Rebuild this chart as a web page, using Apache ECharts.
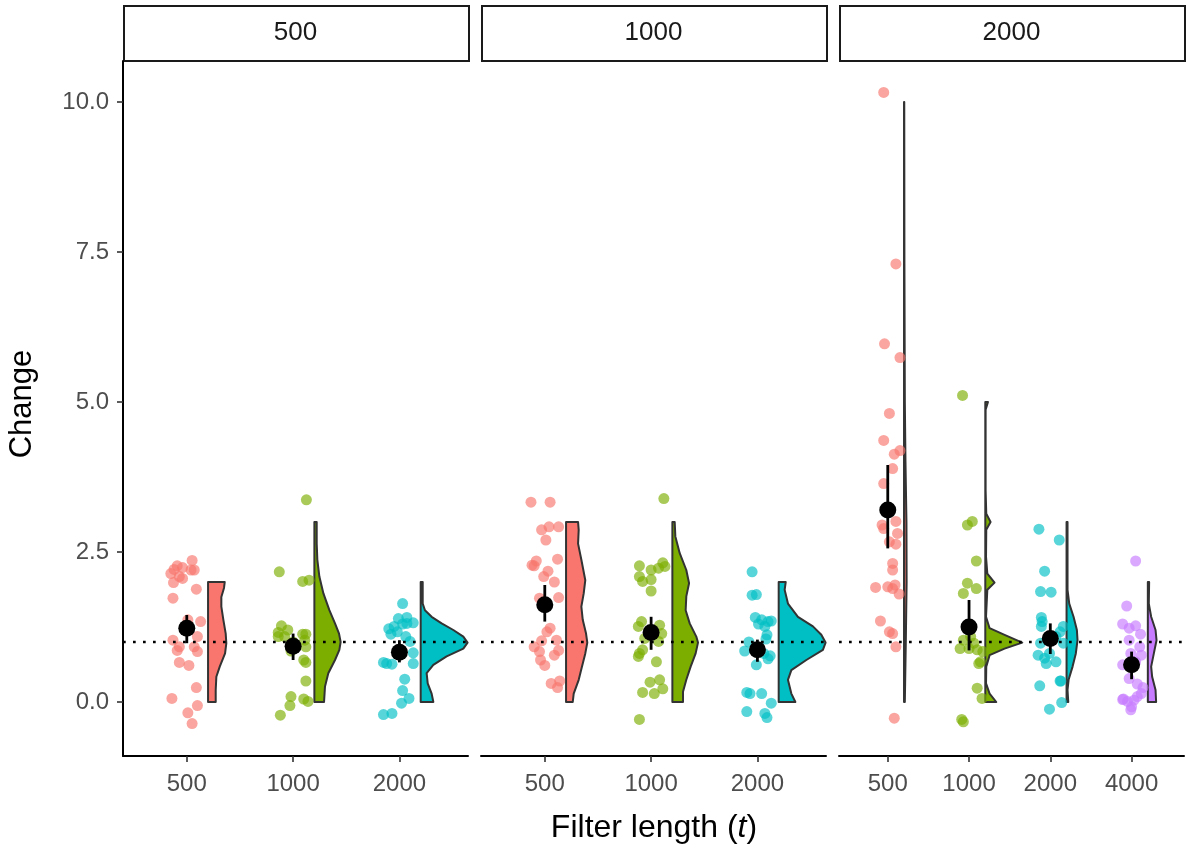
<!DOCTYPE html>
<html>
<head>
<meta charset="utf-8">
<script src="https://cdn.jsdelivr.net/npm/echarts@6/dist/echarts.min.js"></script>
<style>html,body{margin:0;padding:0;background:#fff;}#c{width:1189px;height:852px;}</style>
</head>
<body>
<div id="c"></div>
<script>
// ---------- DATA ----------
const facetLabels = ['500', '1000', '2000'];
const xCats = [['500', '1000', '2000'], ['500', '1000', '2000'], ['500', '1000', '2000', '4000']];
const yTicks = [0, 2.5, 5, 7.5, 10];
const refLine = 1;

// jittered points: [x jitter offset, value]
const f500_t500 = [[0.05,2.36],[-0.09,2.27],[-0.12,2.21],[-0.04,2.24],[-0.15,2.14],[-0.07,2.09],[0.04,2.2],[0.07,2.2],[-0.04,2.06],[-0.125,1.99],[0.09,1.88],[-0.13,1.73],[0.01,1.37],[0.13,1.34],[0.1,1.09],[-0.13,1.03],[-0.07,0.92],[0.07,0.92],[-0.09,0.86],[0.1,0.84],[-0.07,0.66],[0.02,0.61],[0.09,0.24],[-0.14,0.06],[0.1,-0.06],[0.01,-0.18],[0.05,-0.36]];
const f500_t1000 = [[0.125,3.37],[-0.13,2.17],[0.09,2.01],[0.15,2.03],[-0.11,1.27],[-0.14,1.16],[-0.05,1.2],[-0.08,1.09],[0.09,1.13],[0.12,1.13],[-0.14,1.09],[0.11,1.03],[0.12,0.92],[0.0,1.0],[-0.02,0.85],[0.1,0.7],[0.12,0.66],[0.12,0.35],[-0.02,0.09],[-0.03,-0.06],[0.1,0.05],[0.14,0.01],[-0.12,-0.22]];
const f500_t2000 = [[0.03,1.64],[-0.01,1.39],[0.07,1.41],[0.13,1.32],[0.07,1.31],[0.03,1.3],[-0.05,1.26],[-0.1,1.22],[-0.02,1.17],[-0.08,1.13],[0.06,1.09],[0.1,1.01],[0.13,0.82],[0.0,0.8],[-0.15,0.66],[-0.12,0.64],[-0.07,0.63],[0.13,0.64],[0.05,0.38],[0.03,0.19],[0.09,0.06],[0.02,-0.02],[-0.15,-0.21],[-0.07,-0.19]];
const f1000_t500 = [[-0.13,3.33],[0.05,3.33],[-0.03,2.87],[0.04,2.92],[0.13,2.92],[0.01,2.7],[0.12,2.38],[-0.12,2.28],[-0.08,2.35],[-0.1,2.27],[0.03,2.18],[-0.01,2.09],[0.09,2.0],[0.13,1.74],[-0.05,1.73],[0.05,1.23],[0.02,1.17],[0.11,1.03],[-0.03,1.02],[-0.1,0.92],[-0.05,0.84],[0.13,0.86],[0.09,0.78],[-0.04,0.7],[0,0.61],[0.06,0.31],[0.14,0.35],[0.12,0.24]];
const f1000_t1000 = [[0.12,3.39],[-0.11,2.27],[0,2.2],[0.07,2.23],[0.11,2.32],[0.13,2.26],[-0.11,2.09],[-0.08,2.01],[0,2.04],[0,1.85],[-0.09,1.34],[-0.12,1.26],[0.08,1.28],[0.1,1.14],[-0.06,1.06],[0.07,1.01],[-0.08,0.87],[-0.11,0.81],[-0.12,0.76],[0.05,0.67],[-0.01,0.33],[0.08,0.37],[0.11,0.22],[-0.08,0.16],[0.03,0.14],[-0.11,-0.29]];
const f1000_t2000 = [[-0.05,2.17],[-0.05,1.78],[-0.01,1.79],[-0.02,1.41],[0.04,1.37],[0.1,1.34],[0.13,1.35],[0.01,1.3],[0.07,1.26],[0.09,1.12],[-0.08,1.0],[0.08,1.05],[-0.12,0.85],[0.06,0.81],[0.1,0.72],[0.12,0.77],[-0.01,0.62],[-0.1,0.16],[-0.07,0.14],[0.04,0.14],[0.13,-0.02],[-0.1,-0.16],[0.07,-0.19],[0.09,-0.26]];
const f2000_t500 = [[-0.05,10.16],[0.1,7.3],[-0.04,5.97],[0.15,5.74],[0.02,4.81],[-0.05,4.36],[0.15,4.19],[0.08,4.13],[0.06,3.89],[-0.05,3.64],[-0.07,2.95],[-0.05,2.89],[0.1,3.01],[0.12,2.81],[0.02,2.67],[0.1,2.63],[0.06,2.31],[0.06,2.2],[-0.15,1.91],[0,1.92],[0.09,1.95],[0.06,1.89],[0.14,1.8],[-0.09,1.35],[0.02,1.17],[0.06,1.14],[0.1,0.92],[0.08,-0.27]];
const f2000_t1000 = [[-0.08,5.11],[-0.02,2.95],[0.04,3.01],[0.09,2.35],[-0.02,1.98],[0.09,1.89],[-0.07,1.81],[0.02,1.09],[0.06,0.98],[-0.07,1.03],[-0.11,0.89],[0,0.89],[0.1,0.87],[0.17,0.84],[0.14,0.67],[0.12,0.64],[0.1,0.23],[0.16,0.06],[-0.09,-0.29],[-0.07,-0.33]];
const f2000_t2000 = [[-0.14,2.88],[0.11,2.7],[-0.07,2.18],[-0.12,1.84],[0.01,1.83],[-0.11,1.41],[-0.1,1.34],[-0.11,1.26],[0.16,1.26],[0.12,1.17],[0.07,1.09],[-0.12,0.98],[0.16,0.98],[-0.01,0.81],[-0.15,0.78],[-0.07,0.73],[-0.05,0.64],[0.07,0.67],[-0.13,0.27],[0.12,0.35],[0.13,0.35],[0.14,-0.01],[-0.01,-0.12]];
const f2000_t4000 = [[0.05,2.35],[-0.06,1.6],[-0.11,1.3],[0.05,1.27],[-0.03,1.23],[0.11,1.13],[-0.03,1.03],[0.1,0.92],[-0.01,0.81],[0.12,0.78],[0.05,0.67],[-0.11,0.62],[-0.03,0.39],[0.07,0.3],[0.14,0.24],[0.12,0.14],[-0.11,0.04],[-0.05,0.01],[0.03,0.03],[0.07,0.09],[-0.1,0.05],[0.0,-0.08],[-0.01,-0.13]];

// half-violin profiles: [value, half width (x units)], top to bottom
const v500_t500 = [[2.0,0.157],[1.9,0.15],[1.75,0.125],[1.59,0.125],[1.37,0.144],[1.14,0.166],[0.98,0.172],[0.81,0.16],[0.59,0.11],[0.42,0.078],[0.2,0.072],[0,0.072]];
const v500_t1000 = [[3.0,0.022],[2.64,0.022],[2.37,0.028],[2.09,0.047],[1.81,0.085],[1.53,0.141],[1.31,0.194],[1.14,0.232],[1.0,0.247],[0.87,0.235],[0.7,0.194],[0.48,0.131],[0.26,0.1],[0,0.091]];
const v500_t2000 = [[2.0,0.019],[1.64,0.019],[1.53,0.04],[1.42,0.103],[1.31,0.197],[1.2,0.307],[1.09,0.401],[0.99,0.441],[0.89,0.401],[0.76,0.244],[0.62,0.119],[0.48,0.056],[0.31,0.066],[0.14,0.103],[0,0.119]];
const v1000_t500 = [[3.0,0.113],[2.87,0.119],[2.64,0.113],[2.37,0.144],[2.03,0.181],[1.81,0.166],[1.59,0.144],[1.37,0.157],[1.14,0.188],[0.99,0.2],[0.81,0.181],[0.59,0.15],[0.37,0.119],[0.14,0.072],[0,0.063]];
const v1000_t1000 = [[3.0,0.022],[2.76,0.028],[2.48,0.069],[2.2,0.131],[1.98,0.157],[1.76,0.131],[1.53,0.125],[1.31,0.163],[1.09,0.225],[0.99,0.241],[0.81,0.219],[0.59,0.172],[0.37,0.131],[0.17,0.1],[0,0.1]];
const v1000_t2000 = [[2.0,0.066],[1.87,0.056],[1.64,0.087],[1.42,0.181],[1.26,0.322],[1.12,0.401],[0.99,0.441],[0.87,0.416],[0.7,0.26],[0.53,0.119],[0.37,0.087],[0.14,0.119],[0,0.157]];
const v2000_t500 = [[10.0,0.003],[7.3,0.005],[5.0,0.01],[4.0,0.018],[3.0,0.03],[2.0,0.032],[1.0,0.022],[0,0.01]];
const v2000_t1000 = [[5.0,0.033],[4.87,0.004],[3.53,0.004],[3.14,0.012],[3.0,0.065],[2.87,0.012],[2.42,0.009],[2.14,0.025],[1.99,0.114],[1.87,0.025],[1.42,0.009],[1.23,0.053],[1.12,0.237],[0.99,0.455],[0.89,0.237],[0.78,0.053],[0.59,0.012],[0.31,0.009],[0.14,0.053],[0,0.135]];
const v2000_t2000 = [[3.0,0.012],[1.87,0.012],[1.64,0.033],[1.42,0.086],[1.2,0.127],[1.03,0.135],[0.81,0.114],[0.59,0.074],[0.37,0.025],[0.2,0.012],[0,0.021]];
const v2000_t4000 = [[2.0,0.016],[1.64,0.012],[1.42,0.041],[1.2,0.095],[1.03,0.107],[0.81,0.074],[0.59,0.041],[0.42,0.053],[0.2,0.095],[0,0.102]];

// mean with interval: [mean, low, high]
const m500 = [[1.23,0.98,1.45],[0.93,0.70,1.14],[0.83,0.66,1.03]];
const m1000 = [[1.62,1.34,1.95],[1.16,0.87,1.42],[0.87,0.67,1.04]];
const m2000 = [[3.20,2.56,3.95],[1.25,0.86,1.70],[1.06,0.80,1.31],[0.62,0.38,0.84]];

// ---------- BUILD ----------
const groupColors = ['#F8766D', '#7CAE00', '#00BFC4', '#C77CFF'];
const pointColors = ['rgba(248,118,109,0.82)', 'rgba(124,174,0,0.82)', 'rgba(0,191,196,0.82)', 'rgba(199,124,255,0.82)'];
const points = [[f500_t500, f500_t1000, f500_t2000], [f1000_t500, f1000_t1000, f1000_t2000], [f2000_t500, f2000_t1000, f2000_t2000, f2000_t4000]];
const violins = [[v500_t500, v500_t1000, v500_t2000], [v1000_t500, v1000_t1000, v1000_t2000], [v2000_t500, v2000_t1000, v2000_t2000, v2000_t4000]];
const means = [m500, m1000, m2000];

const FONT = 'Liberation Sans, Arial, Helvetica, sans-serif';
const panelLeft = [123, 481, 839];
const panelW = 345, panelTop = 61, panelH = 695;
const yMin = -0.9, yMax = 10.683;
const nudge = 0.2;

const grid = [], xAxis = [], yAxis = [], series = [], graphic = [];
for (let p = 0; p < 3; p++) {
  const cats = xCats[p];
  const n = cats.length;
  const xmin = 0.4, xmax = n + 0.645;
  const catVals = cats.map((c, i) => i + 1);
  grid.push({ left: panelLeft[p], top: panelTop, width: panelW, height: panelH });
  xAxis.push({
    type: 'value', gridIndex: p, min: xmin, max: xmax,
    axisLine: { show: true, onZero: false, lineStyle: { color: '#000', width: 2 } },
    axisTick: { show: true, customValues: catVals, length: 6, lineStyle: { color: '#333', width: 1.6 } },
    axisLabel: { show: true, customValues: catVals, formatter: v => cats[Math.round(v) - 1], fontSize: 24, color: '#4d4d4d', fontFamily: FONT, margin: 16 },
    splitLine: { show: false }
  });
  yAxis.push({
    type: 'value', gridIndex: p, min: yMin, max: yMax,
    axisLine: { show: p === 0, onZero: false, lineStyle: { color: '#000', width: 2 } },
    axisTick: { show: p === 0, customValues: yTicks, length: 6, lineStyle: { color: '#333', width: 1.6 } },
    axisLabel: { show: p === 0, customValues: yTicks, formatter: v => v.toFixed(1), fontSize: 24, color: '#4d4d4d', fontFamily: FONT, margin: 14 },
    splitLine: { show: false }
  });

  // violins
  const vprof = violins[p];
  series.push({
    type: 'custom', xAxisIndex: p, yAxisIndex: p, z: 1, silent: true,
    data: catVals.map(v => [v]),
    renderItem: function (params, api) {
      const idx = params.dataIndex;
      const prof = vprof[idx];
      const base = api.value(0) + nudge;
      const pts = [api.coord([base, prof[0][0]])];
      prof.forEach(r => pts.push(api.coord([base + r[1], r[0]])));
      pts.push(api.coord([base, prof[prof.length - 1][0]]));
      return {
        type: 'polygon', shape: { points: pts },
        style: { fill: groupColors[idx], stroke: '#333333', lineWidth: 2, lineJoin: 'round' }
      };
    }
  });

  // jittered points
  points[p].forEach((arr, i) => {
    series.push({
      type: 'scatter', xAxisIndex: p, yAxisIndex: p, z: 2, silent: true,
      symbolSize: 11,
      itemStyle: { color: pointColors[i] },
      data: arr.map(d => [i + 1 + d[0], d[1]])
    });
  });

  // reference line
  series.push({
    type: 'line', xAxisIndex: p, yAxisIndex: p, z: 3, silent: true,
    showSymbol: false, symbol: 'none',
    lineStyle: { color: '#000', width: 2.4, type: [2.7, 7.3] },
    data: [[xmin, refLine], [xmax, refLine]]
  });

  // means with error bars
  series.push({
    type: 'custom', xAxisIndex: p, yAxisIndex: p, z: 4, silent: true,
    data: means[p].map((m, i) => [i + 1, m[0], m[1], m[2]]),
    renderItem: function (params, api) {
      const x = api.value(0);
      const c = api.coord([x, api.value(1)]);
      const lo = api.coord([x, api.value(2)]);
      const hi = api.coord([x, api.value(3)]);
      return {
        type: 'group', children: [
          { type: 'line', shape: { x1: lo[0], y1: lo[1], x2: hi[0], y2: hi[1] }, style: { stroke: '#000', lineWidth: 2.8 } },
          { type: 'circle', shape: { cx: c[0], cy: c[1], r: 8.5 }, style: { fill: '#000' } }
        ]
      };
    }
  });

  // strip
  graphic.push({
    type: 'rect', left: panelLeft[p], top: 5,
    shape: { width: panelW, height: 55 },
    style: { fill: '#fff', stroke: '#1a1a1a', lineWidth: 2 }
  });
  graphic.push({
    type: 'text', x: panelLeft[p] + panelW / 2, y: 33,
    style: { text: facetLabels[p], fill: '#1a1a1a', font: '26px ' + FONT, align: 'center', verticalAlign: 'middle' }
  });
}

// axis titles
graphic.push({
  type: 'text', x: 654, y: 828,
  style: {
    text: '{n|Filter length (}{i|t}{n|)}', align: 'center', verticalAlign: 'middle',
    rich: { n: { fontSize: 32, fontFamily: FONT, fill: '#000' }, i: { fontSize: 32, fontFamily: FONT, fontStyle: 'italic', fill: '#000' } }
  }
});
graphic.push({
  type: 'text', x: 22, y: 404, rotation: Math.PI / 2,
  style: { text: 'Change', fill: '#000', font: '31px ' + FONT, align: 'center', verticalAlign: 'middle' }
});

const chart = echarts.init(document.getElementById('c'), null, { renderer: 'canvas' });
chart.setOption({
  animation: false,
  backgroundColor: '#fff',
  grid, xAxis, yAxis, series, graphic
});
</script>
</body>
</html>
